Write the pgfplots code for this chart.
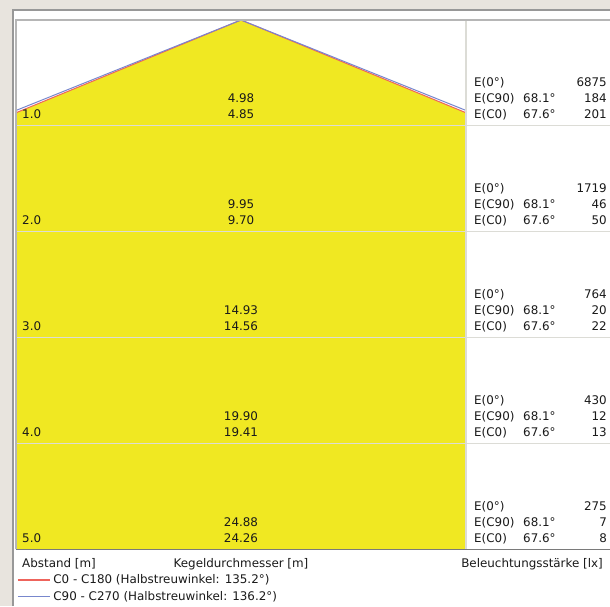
\documentclass[border=0pt]{standalone}
\usepackage{pgfplots}
\pgfplotsset{compat=1.18}
\usepackage{fontspec}
\setmainfont{DejaVu Sans}

\definecolor{hintergrund}{RGB}{232,228,222}
\definecolor{rahmen}{RGB}{152,152,152}
\definecolor{rahmenhell}{RGB}{182,182,182}
\definecolor{trenn}{RGB}{220,220,214}
\definecolor{kegel}{RGB}{240,232,34}
\definecolor{rot}{RGB}{238,100,92}
\definecolor{blau}{RGB}{120,135,205}
\definecolor{schrift}{RGB}{26,26,26}

% one row: distance, diameter C90, diameter C0, E(0), E(C90), E(C0)
\newcommand{\zeile}[6]{%
  \node[txt, anchor=base west, xshift=6pt, yshift=7pt] at (axis cs:-2.127,#1) {#1};
  \node[txt, anchor=base, yshift=23pt] at (axis cs:0,#1) {#2};
  \node[txt, anchor=base, yshift=7pt] at (axis cs:0,#1) {#3};
  \node[txt, anchor=base west, xshift=8pt, yshift=39pt] at (axis cs:2.127,#1) {E(0°)};
  \node[txt, anchor=base west, xshift=8pt, yshift=23pt] at (axis cs:2.127,#1) {E(C90)};
  \node[txt, anchor=base west, xshift=8pt, yshift=7pt] at (axis cs:2.127,#1) {E(C0)};
  \node[txt, anchor=base west, xshift=57pt, yshift=23pt] at (axis cs:2.127,#1) {68.1°};
  \node[txt, anchor=base west, xshift=57pt, yshift=7pt] at (axis cs:2.127,#1) {67.6°};
  \node[txt, anchor=base east, xshift=141pt, yshift=39pt] at (axis cs:2.127,#1) {#4};
  \node[txt, anchor=base east, xshift=141pt, yshift=23pt] at (axis cs:2.127,#1) {#5};
  \node[txt, anchor=base east, xshift=141pt, yshift=7pt] at (axis cs:2.127,#1) {#6};
}

\begin{document}
\begin{tikzpicture}[font=\fontsize{11.9}{14}\selectfont,
  txt/.style={inner sep=0pt, text=schrift}]
\useasboundingbox (-16pt,-57pt) rectangle (594pt,549pt);
\fill[hintergrund] (-16pt,-57pt) rectangle (594pt,549pt);
\fill[white] (-3pt,-57pt) rectangle (594pt,539pt);
\draw[rahmen, line width=2.5pt] (-3pt,-57pt) -- (-3pt,539pt) -- (594pt,539pt);

\begin{axis}[
    at={(0,0)}, anchor=south west,
    scale only axis, width=450pt, height=529pt,
    xmin=-2.127, xmax=2.127,
    ymin=0, ymax=5, y dir=reverse,
    axis line style={draw=none},
    ticks=none,
    clip mode=individual,
    legend style={at={(0,0)}, anchor=north west, xshift=1pt, yshift=-24.5pt,
        draw=none, fill=none, inner sep=0pt, row sep=4pt, column sep=2pt,
        font=\fontsize{11.9}{14}\selectfont, text=schrift,
        nodes={inner sep=1pt}},
    legend cell align=left,
    legend image code/.code={\draw[#1, line width=1.2pt] (0pt,0pt) -- (32pt,0pt);},
]
% cone (diameters at 5 m: C0 24.26, C90 24.88)
\addplot[fill=kegel, draw=none, forget plot] coordinates {(-12.13,5) (0,0) (12.13,5)} -- cycle;
\addplot[rot, line width=1pt] coordinates {(-12.13,5) (0,0) (12.13,5)};
\addplot[blau, line width=1pt] coordinates {(-12.44,5) (0,0) (12.44,5)};
\legend{C0 - C180 (Halbstreuwinkel: 135.2°), C90 - C270 (Halbstreuwinkel: 136.2°)}

\pgfplotsinvokeforeach{1,2,3,4}{
  \draw[trenn, line width=1.2pt] (axis cs:-2.127,#1) -- ++(594pt,0pt);
}
\draw[trenn, line width=1.5pt] (axis cs:2.127,0) -- (axis cs:2.127,5);

\zeile{1.0}{4.98}{4.85}{6875}{184}{201}
\zeile{2.0}{9.95}{9.70}{1719}{46}{50}
\zeile{3.0}{14.93}{14.56}{764}{20}{22}
\zeile{4.0}{19.90}{19.41}{430}{12}{13}
\zeile{5.0}{24.88}{24.26}{275}{7}{8}

\node[txt, anchor=base west, xshift=6pt, yshift=-18pt] at (axis cs:-2.127,5) {Abstand [m]};
\node[txt, anchor=base, yshift=-18pt] at (axis cs:0,5) {Kegeldurchmesser [m]};
\node[txt, anchor=base east, xshift=137pt, yshift=-18pt] at (axis cs:2.127,5) {Beleuchtungsstärke [lx]};
\end{axis}

\draw[rahmenhell, line width=2pt] (0pt,0pt) -- (0pt,529pt) -- (594pt,529pt);
\draw[rahmen!80!black, line width=1pt] (0pt,0pt) -- (594pt,0pt);
\end{tikzpicture}
\end{document}
